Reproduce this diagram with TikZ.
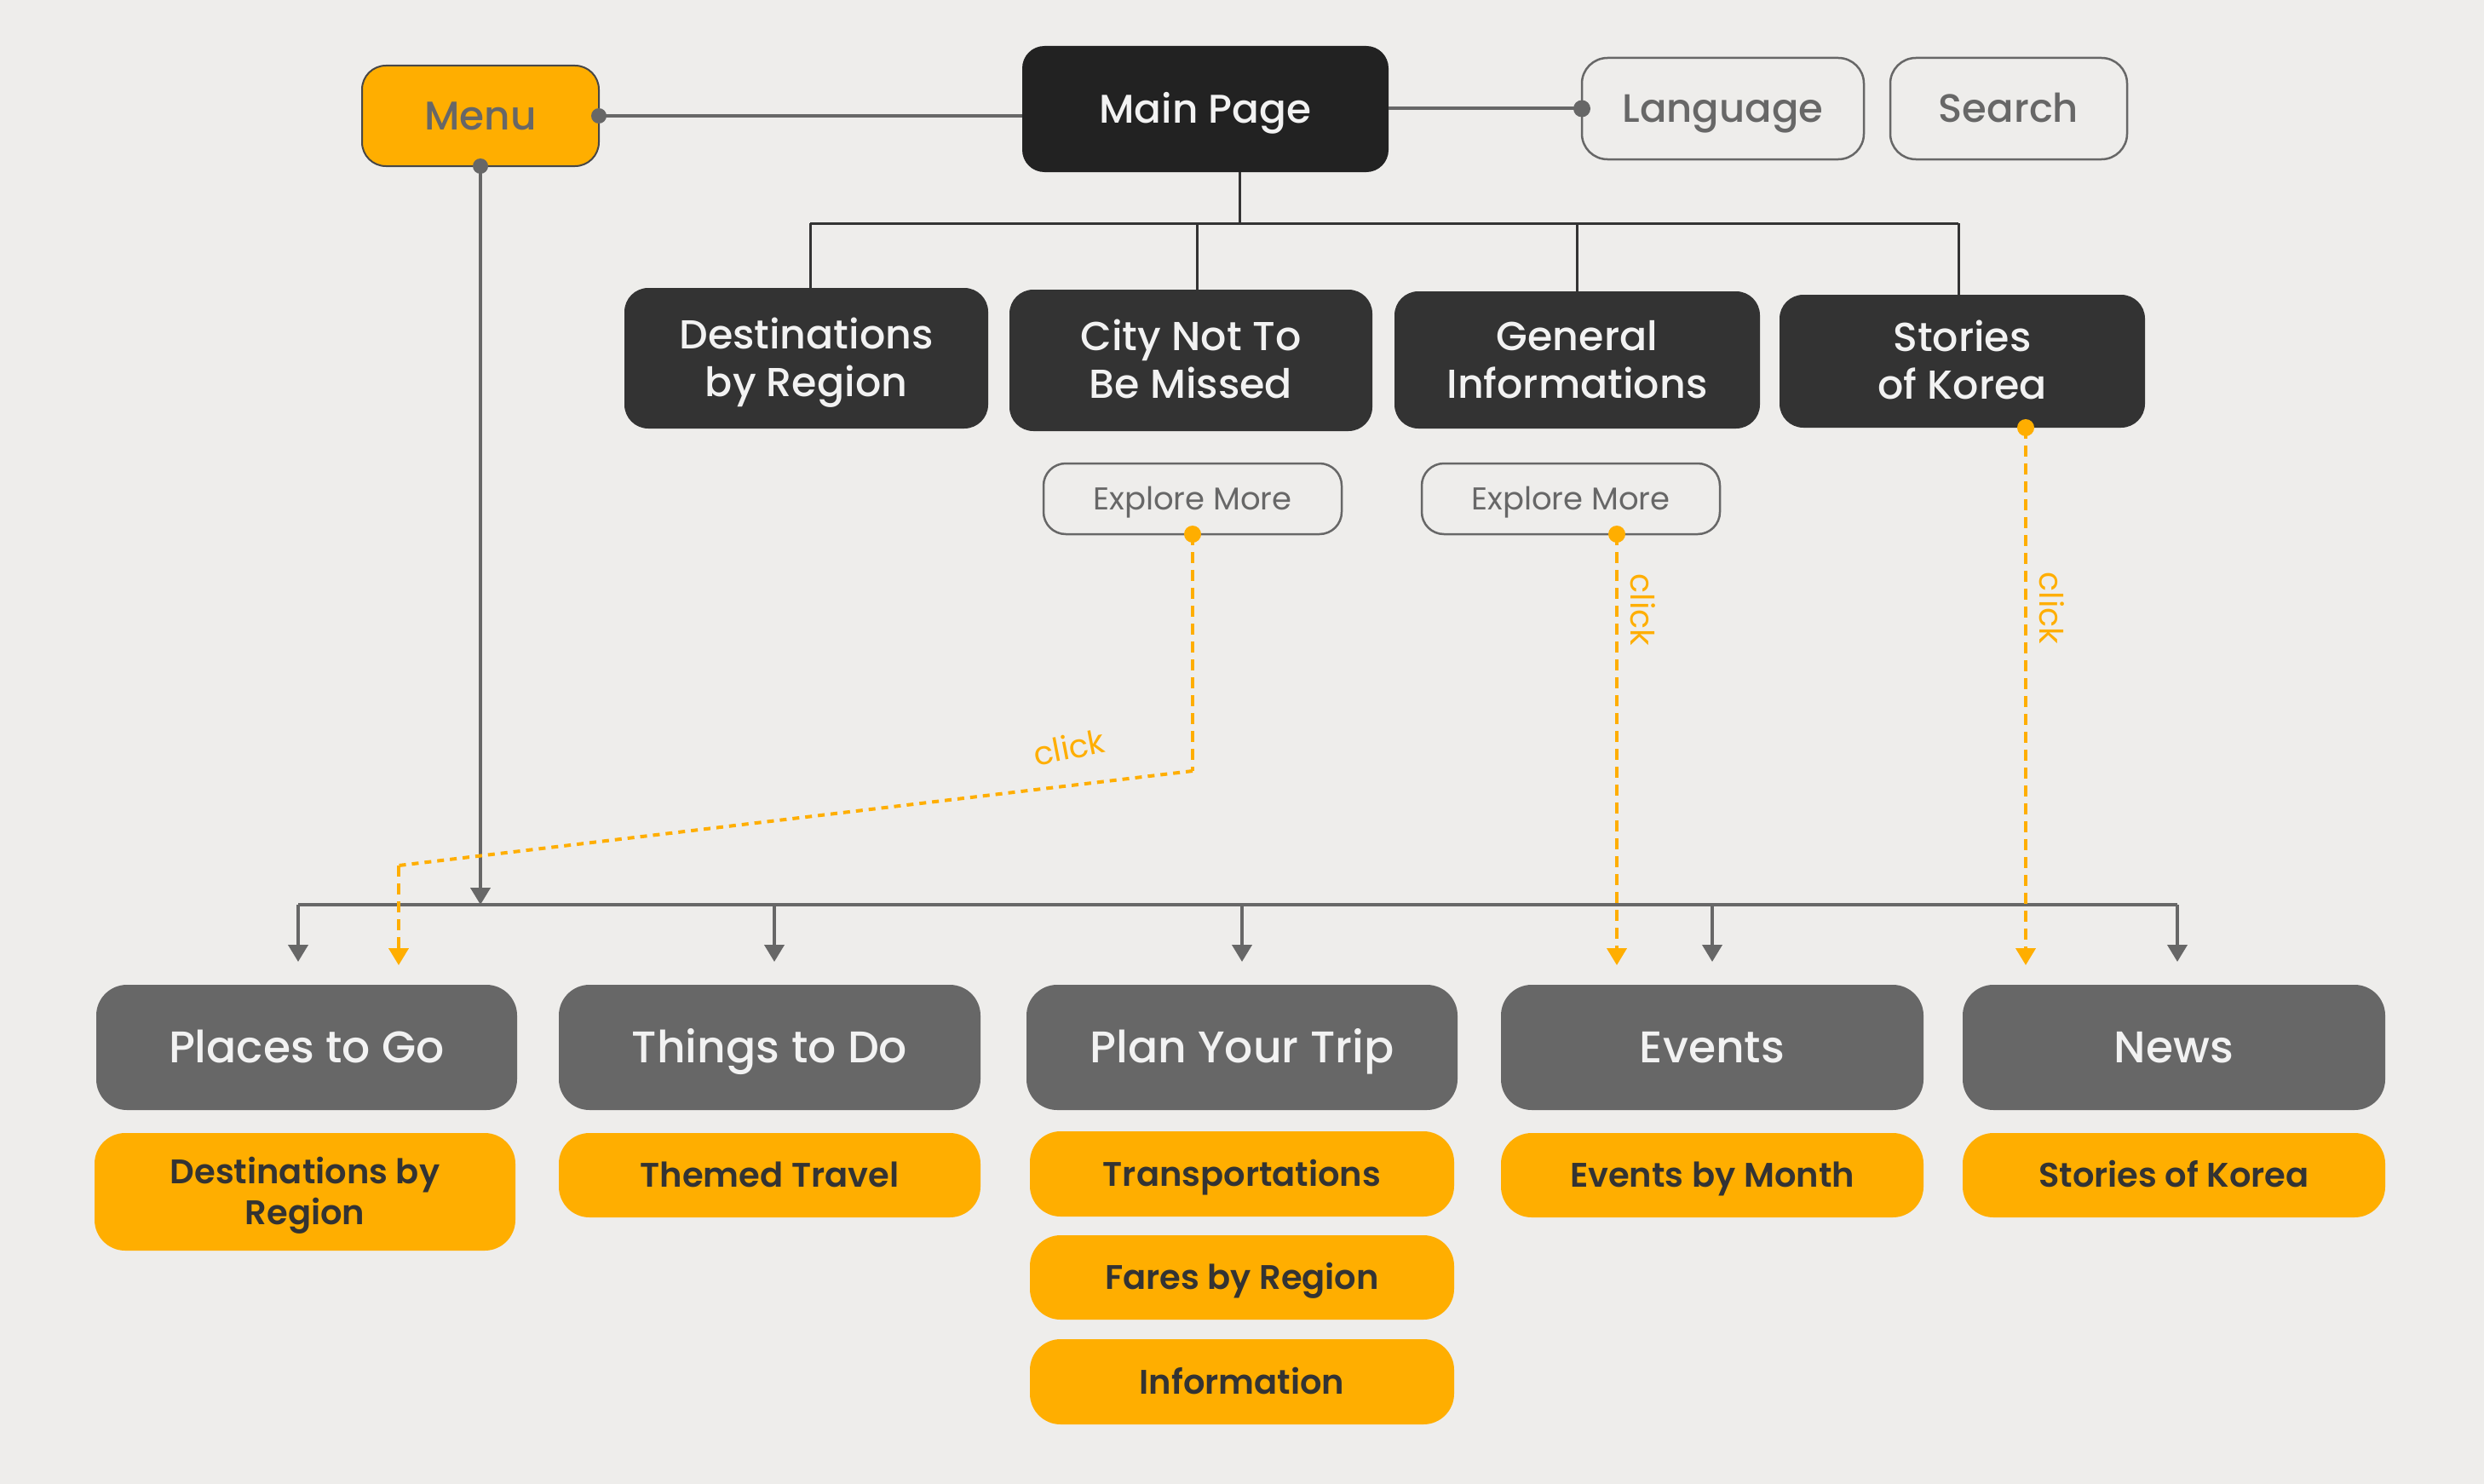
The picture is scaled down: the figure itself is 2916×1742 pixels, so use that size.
\documentclass[tikz,border=0pt]{standalone}
\usepackage{fontspec}
\setmainfont{Poppins}
\newfontfamily\pmed{Poppins Medium}
\newfontfamily\psemi{Poppins SemiBold}
\usetikzlibrary{arrows.meta,calc}
\definecolor{bgc}{HTML}{EEEDEB}
\definecolor{org}{HTML}{FFAE00}
\definecolor{dk}{HTML}{222222}
\definecolor{dkb}{HTML}{333333}
\definecolor{gr}{HTML}{676767}
\definecolor{wt}{HTML}{F2F2F2}
\tikzset{
  base/.style={rectangle,inner sep=0pt,outer sep=0pt,align=center,text depth=0pt},
  mainbox/.style={base,fill=dk,rounded corners=26pt,text=wt,font=\pmed\fontsize{47}{56}\selectfont,text height=33pt},
  menubox/.style={base,fill=org,draw=dkb!90,line width=2pt,rounded corners=28pt,text=gr,font=\pmed\fontsize{47}{52}\selectfont,text height=33pt},
  outbox/.style={base,draw=gr,line width=2.5pt,rounded corners=30pt,text=gr,font=\pmed\fontsize{46.5}{52}\selectfont,text height=32.5pt},
  explbox/.style={base,draw=gr,line width=2.5pt,rounded corners=26pt,text=gr,font=\fontsize{37}{40}\selectfont,text height=26pt},
  navbox/.style={base,fill=dkb,rounded corners=28pt,text=wt,font=\pmed\fontsize{47.5}{56}\selectfont,text height=89.5pt},
  secbox/.style={base,fill=gr,rounded corners=36pt,text=wt,font=\pmed\fontsize{52}{58}\selectfont,minimum height=147pt,text height=36.5pt},
  subbox/.style={base,fill=org,rounded corners=36pt,text=dkb,font=\psemi\fontsize{40}{48}\selectfont,text height=28pt},
  gline/.style={draw=gr,line width=4pt},
  tline/.style={draw=dkb,line width=3pt},
  oline/.style={draw=org,line width=4pt},
  odash/.style={oline,dash pattern=on 13pt off 8pt},
  odot/.style={oline,dash pattern=on 8pt off 7pt},
  tip/.style={-{Triangle[width=23pt,length=20pt]}},
  clicklbl/.style={text=org,font=\fontsize{38}{44}\selectfont,inner sep=0pt}
}
\begin{document}
\begin{tikzpicture}[x=1pt,y=-1pt]
\fill[bgc] (0,0) rectangle (2916,1742);
\useasboundingbox (0,0) rectangle (2916,1742);

% top row
\node[menubox,minimum width=278pt,minimum height=118pt] (menu) at (564,136) {Menu};
\node[mainbox,minimum width=430pt,minimum height=148pt] (main) at (1415,128) {Main Page};
\node[outbox,minimum width=331pt,minimum height=119pt] (lang) at (2022.5,127.5) {Language};
\node[outbox,minimum width=278pt,minimum height=119pt] (search) at (2358,127.5) {Search};

% second row
\node[navbox,minimum width=427pt,minimum height=165pt] (dest) at (946.5,420.5) {Destinations\\by Region};
\node[navbox,minimum width=426pt,minimum height=166pt] (city) at (1398,423) {City Not To\\Be Missed};
\node[navbox,minimum width=429pt,minimum height=161pt] (gen) at (1851.5,422.5) {General\\Informations};
\node[navbox,minimum width=429pt,minimum height=156pt] (stor) at (2303.5,424) {Stories\\of Korea};

\node[explbox,minimum width=350pt,minimum height=83pt] (exp1) at (1400,585.5) {Explore More};
\node[explbox,minimum width=350pt,minimum height=83pt] (exp2) at (1844,585.5) {Explore More};

% bottom sections
\node[secbox,minimum width=494pt] (places) at (360,1229.5) {Places to Go};
\node[secbox,minimum width=495pt] (things) at (903.5,1229.5) {Things to Do};
\node[secbox,minimum width=506pt] (plan) at (1458,1229.5) {Plan Your Trip};
\node[secbox,minimum width=496pt] (events) at (2010,1229.5) {Events};
\node[secbox,minimum width=496pt] (news) at (2552,1229.5) {News};

\node[subbox,minimum width=494pt,minimum height=138pt,text height=76pt] (odest) at (358,1399) {Destinations by\\Region};
\node[subbox,minimum width=495pt,minimum height=99pt] (themed) at (903.5,1379.5) {Themed Travel};
\node[subbox,minimum width=498pt,minimum height=100pt] (transp) at (1458,1378) {Transportations};
\node[subbox,minimum width=498pt,minimum height=99pt] (fares) at (1458,1499.5) {Fares by Region};
\node[subbox,minimum width=498pt,minimum height=100pt] (info) at (1458,1622) {Information};
\node[subbox,minimum width=496pt,minimum height=99pt] (evm) at (2010,1379.5) {Events by Month};
\node[subbox,minimum width=496pt,minimum height=99pt] (ostor) at (2552,1379.5) {Stories of Korea};

% helper coordinates
\coordinate (tb) at (1455,262);
\coordinate (b1) at (951,262);
\coordinate (b2) at (1405,262);
\coordinate (b3) at (1851,262);
\coordinate (b4) at (2299,262);
\coordinate (c1) at (350,1062);
\coordinate (c2) at (909,1062);
\coordinate (c3) at (1458,1062);
\coordinate (c4) at (2010,1062);
\coordinate (c5) at (2556,1062);
\coordinate (tiprow) at (0,1129);
\coordinate (otip) at (0,1133);
\coordinate (e2d) at (1898,627);
\coordinate (sx) at (2378,0);
\coordinate (o1a) at (1400,905);
\coordinate (o1b) at (468,1016);

% gray connectors top
\draw[gline] (menu.east) -- (menu.east -| main.west);
\draw[gline] (main.east |- lang.west) -- (lang.west);
\draw[gline,tip] (menu.south) -- (menu.south |- c1);
\fill[gr] (menu.east) circle[radius=9pt];
\fill[gr] (menu.south) circle[radius=9pt];
\fill[gr] (lang.west) circle[radius=10pt];

% tree from main page
\draw[tline] (tb |- main.south) -- (tb);
\draw[tline] (b1) -- (b4);
\draw[tline] (b1) -- (b1 |- dest.north);
\draw[tline] (b2) -- (b2 |- city.north);
\draw[tline] (b3) -- (b3 |- gen.north);
\draw[tline] (b4) -- (b4 |- stor.north);

% bus to sections
\draw[gline] (c1) -- (c5);
\draw[gline,tip] (c1) -- (c1 |- tiprow);
\draw[gline,tip] (c2) -- (c2 |- tiprow);
\draw[gline,tip] (c3) -- (c3 |- tiprow);
\draw[gline,tip] (c4) -- (c4 |- tiprow);
\draw[gline,tip] (c5) -- (c5 |- tiprow);

% orange click paths
\draw[odash] (exp1.south) -- (o1a);
\draw[odot] (o1a) -- (o1b);
\draw[odash,tip] (o1b) -- (o1b |- otip);
\fill[org] (exp1.south) circle[radius=10pt];
\node[clicklbl,rotate=11] (cl1) at (1255,877) {click};

\draw[odash,tip] (e2d) -- (e2d |- otip);
\fill[org] (e2d) circle[radius=10pt];
\node[clicklbl,rotate=-90] (cl2) at (1929,716) {click};

\draw[odash,tip] (sx |- stor.south) -- (sx |- otip);
\fill[org] (sx |- stor.south) circle[radius=10pt];
\node[clicklbl,rotate=-90] (cl3) at (2409,714) {click};
\end{tikzpicture}
\end{document}
